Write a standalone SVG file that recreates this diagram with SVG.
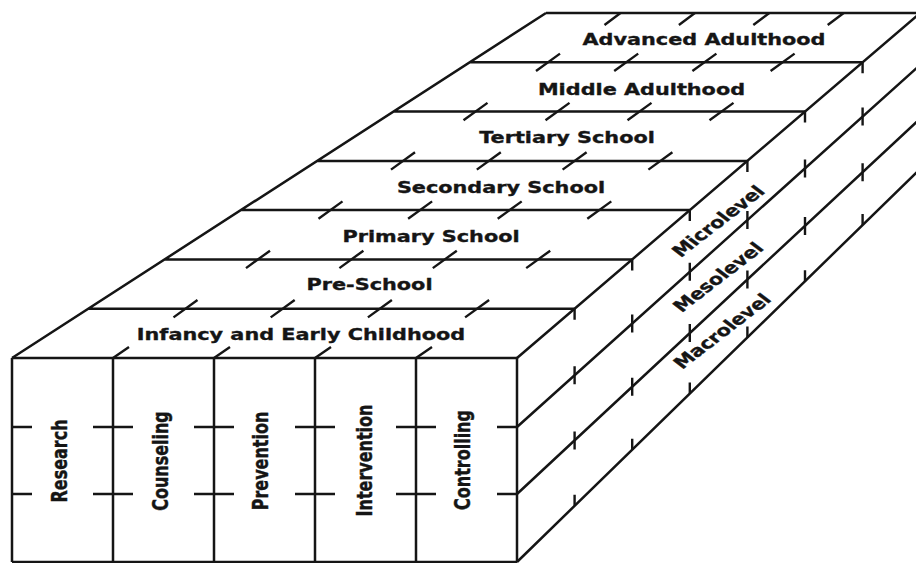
<svg xmlns="http://www.w3.org/2000/svg" width="916" height="563" viewBox="0 0 916 563">
<style>
.ln{fill:none;stroke:#151515;stroke-width:2.5;stroke-linecap:butt;stroke-linejoin:miter}
.tk{fill:none;stroke:#151515;stroke-width:2.4;stroke-linecap:butt}
.lbl{font-family:"DejaVu Sans",Verdana,sans-serif;font-weight:bold;font-size:16px;fill:#151515;stroke:#151515;stroke-width:0.35}
</style>
<rect width="916" height="563" fill="#fff"/>
<g id="connectors">
  <g id="front-face">
    <path class="ln" d="M12 358 H517 M12 562 H517 M12 358 V562 M113 358 V562 M214 358 V562 M315 358 V562 M416 358 V562 M517 358 V562"/>
    <path class="tk" d="M12 427 H32 M93 427 H133 M194 427 H234 M295 427 H335 M396 427 H436 M497 427 H517 M12 494 H32 M93 494 H133 M194 494 H234 M295 494 H335 M396 494 H436 M497 494 H517"/>
  </g>
  <g id="top-face">
    <path class="ln" d="M12 358 L546 13 M88.3 308.7 H574.6 M164.6 259.4 H632.2 M240.9 210.1 H689.8 M317.2 160.9 H747.4 M393.5 111.6 H805 M469.8 62.3 H862.6 M546 13 H921"/>
    <path class="tk" d="M113 358 l16 -11 M214 358 l16 -11 M315 358 l16 -11 M416 358 l16 -11
M173.5 317.4 l24 -17.4 M246 268.1 l24 -17.4 M318.5 218.8 l24 -17.4 M391 169.6 l24 -17.4 M463.5 120.3 l24 -17.4 M536 71 l24 -17.4
M270.7 317.4 l24 -17.4 M339.4 268.1 l24 -17.4 M408.1 218.8 l24 -17.4 M476.8 169.6 l24 -17.4 M545.5 120.3 l24 -17.4 M614.2 71 l24 -17.4
M367.9 317.4 l24 -17.4 M432.8 268.1 l24 -17.4 M497.7 218.8 l24 -17.4 M562.6 169.6 l24 -17.4 M627.5 120.3 l24 -17.4 M692.4 71 l24 -17.4
M465.1 317.4 l24 -17.4 M526.2 268.1 l24 -17.4 M587.3 218.8 l24 -17.4 M648.4 169.6 l24 -17.4 M709.5 120.3 l24 -17.4 M770.6 71 l24 -17.4
M620.5 13 l-16 12 M694.9 13 l-16 12 M769.3 13 l-16 12 M843.7 13 l-16 12"/>
  </g>
  <g id="right-face">
    <path class="ln" d="M517 358 L920.2 13 M517 427 L920.2 64.9 M517 494 L920.2 118.6 M517 562 L920.2 168.9"/>
    <path class="tk" d="M574.6 308.7 v11 M632.2 259.4 v11 M689.8 210.1 v11 M747.4 160.9 v11 M805 111.6 v11 M862.6 62.3 v11
M574.6 366.3 v18 M632.2 314.6 v18 M689.8 262.8 v18 M747.4 211.1 v18 M805 159.4 v18 M862.6 107.6 v18
M574.6 431.4 v18 M632.2 377.7 v18 M689.8 324.1 v18 M747.4 270.5 v18 M805 216.9 v18 M862.6 163.2 v18
M574.6 505.8 v-11 M632.2 449.7 v-11 M689.8 393.5 v-11 M747.4 337.4 v-11 M805 281.2 v-11 M862.6 225 v-11"/>
  </g>
</g>
<g id="row-infancy"><text class="lbl" text-anchor="middle" transform="translate(301 340) scale(1.3 1)">Infancy and Early Childhood</text></g>
<g id="row-preschool"><text class="lbl" text-anchor="middle" transform="translate(369.5 290) scale(1.3 1)">Pre-School</text></g>
<g id="row-primary"><text class="lbl" text-anchor="middle" transform="translate(431 242) scale(1.3 1)">Primary School</text></g>
<g id="row-secondary"><text class="lbl" text-anchor="middle" transform="translate(501 193) scale(1.3 1)">Secondary School</text></g>
<g id="row-tertiary"><text class="lbl" text-anchor="middle" transform="translate(567 143) scale(1.3 1)">Tertiary School</text></g>
<g id="row-middle"><text class="lbl" text-anchor="middle" transform="translate(641.5 95) scale(1.3 1)">Middle Adulthood</text></g>
<g id="row-advanced"><text class="lbl" text-anchor="middle" transform="translate(704 45) scale(1.3 1)">Advanced Adulthood</text></g>
<g id="col-research"><text class="lbl" text-anchor="middle" transform="translate(67 461) rotate(-90) scale(1 1.27)">Research</text></g>
<g id="col-counseling"><text class="lbl" text-anchor="middle" transform="translate(168 461) rotate(-90) scale(1 1.27)">Counseling</text></g>
<g id="col-prevention"><text class="lbl" text-anchor="middle" transform="translate(268 461) rotate(-90) scale(1 1.27)">Prevention</text></g>
<g id="col-intervention"><text class="lbl" text-anchor="middle" transform="translate(372 460.5) rotate(-90) scale(1 1.27)">Intervention</text></g>
<g id="col-controlling"><text class="lbl" text-anchor="middle" transform="translate(470 460) rotate(-90) scale(1 1.27)">Controlling</text></g>
<g id="lvl-micro"><text class="lbl" text-anchor="middle" dy="0.36em" transform="translate(718 221) scale(1.3 1) rotate(-45)">Microlevel</text></g>
<g id="lvl-meso"><text class="lbl" text-anchor="middle" dy="0.36em" transform="translate(718 277) scale(1.3 1) rotate(-45)">Mesolevel</text></g>
<g id="lvl-macro"><text class="lbl" text-anchor="middle" dy="0.36em" transform="translate(722 331) scale(1.3 1) rotate(-45)">Macrolevel</text></g>
</svg>
